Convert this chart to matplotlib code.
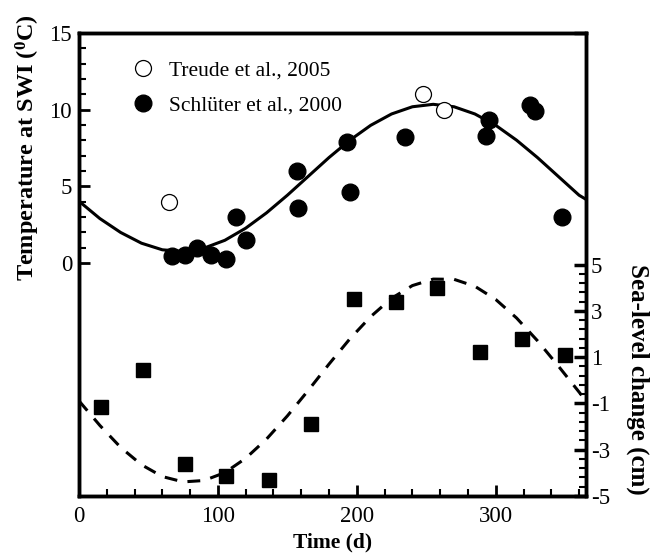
import numpy as np
import matplotlib
matplotlib.use("Agg")
import matplotlib.pyplot as plt
from matplotlib.ticker import MultipleLocator, FixedLocator
from matplotlib.lines import Line2D

plt.rcParams["font.family"] = ["Liberation Serif", "DejaVu Serif"]
plt.rcParams["mathtext.fontset"] = "custom"
plt.rcParams["mathtext.rm"] = "Liberation Serif"
plt.rcParams["mathtext.bf"] = "Liberation Serif:bold"

# Seasonal temperature fit at the sediment-water interface (read every 15 d)
fit_day = [0, 15, 30, 45, 60, 75, 90, 105, 120, 135, 150, 165, 180, 195,
           210, 225, 240, 255, 270, 285, 300, 315, 330, 345, 360, 365]
fit_temp = [4.03, 2.90, 1.99, 1.29, 0.86, 0.75, 0.97, 1.48, 2.27, 3.27,
            4.42, 5.65, 6.88, 8.01, 8.98, 9.72, 10.19, 10.35, 10.19, 9.72,
            8.98, 8.01, 6.88, 5.65, 4.42, 4.15]

# Seasonal sea-level fit
fit_sea = [-0.89, -1.95, -2.90, -3.65, -4.16, -4.39, -4.33, -3.99, -3.37,
           -2.54, -1.54, -0.44, 0.70, 1.79, 2.75, 3.54, 4.09, 4.37, 4.36,
           4.06, 3.49, 2.69, 1.71, 0.62, -0.51, -0.89]

# Observations
treude_day = [65, 248, 263]
treude_temp = [4.0, 11.0, 10.0]

schluter_day = [67, 76, 85, 95, 106, 113, 120, 157, 158, 193, 195, 235,
                293, 295, 325, 328, 348]
schluter_temp = [0.45, 0.55, 1.0, 0.55, 0.25, 3.0, 1.5, 6.0, 3.6, 7.9,
                 4.6, 8.2, 8.3, 9.3, 10.3, 9.9, 3.0]

sea_day = [16, 46, 76, 106, 137, 167, 198, 228, 258, 289, 319, 350]
sea_level = [-1.15, 0.45, -3.6, -4.15, -4.3, -1.9, 3.5, 3.4, 4.0, 1.2,
             1.8, 1.1]

fig = plt.figure(figsize=(6.55, 5.56), dpi=100)
ax = fig.add_axes([0.1206, 0.1079, 0.7741, 0.8327])
ax2 = ax.twinx()

ax.plot(fit_day, fit_temp, color="black", lw=2.2, zorder=2)
ax.plot(treude_day, treude_temp, "o", ms=11.5, mfc="white", mec="black",
        mew=0.9, zorder=3)
ax.plot(schluter_day, schluter_temp, "o", ms=12, color="black", zorder=3)

ax2.plot(fit_day, fit_sea, color="black", lw=2.2, ls=(0, (4.2, 3.4)))
ax2.plot(sea_day, sea_level, "s", ms=10, color="black")

ax.set_xlim(0, 365)
ax.set_ylim(-15.2, 15)
ax2.set_ylim(-5, 15)

for a in (ax, ax2):
    for s in a.spines.values():
        s.set_linewidth(2.5)

ax.xaxis.set_major_locator(MultipleLocator(100))
ax.xaxis.set_minor_locator(MultipleLocator(20))
ax.yaxis.set_major_locator(FixedLocator([0, 5, 10, 15]))
ax.yaxis.set_minor_locator(FixedLocator(np.arange(0, 16, 1)))
ax2.yaxis.set_major_locator(FixedLocator([-5, -3, -1, 1, 3, 5, 15]))
ax2.yaxis.set_minor_locator(FixedLocator(np.arange(-5, 5.01, 0.4)))
ax2.set_yticklabels(["-5", "-3", "-1", "1", "3", "5", ""])

ax.tick_params(axis="both", which="both", direction="in", labelsize=16.5,
               top=False, right=False, width=1.5)
ax.tick_params(which="major", length=8, width=2)
ax.tick_params(which="minor", length=5)
ax2.tick_params(axis="y", which="both", direction="in", labelsize=16.5,
                width=1.5)
ax2.tick_params(which="major", length=9, width=2.5)
ax2.tick_params(which="minor", length=5)
ax.tick_params(axis="x", pad=7)
ax.tick_params(axis="y", pad=5)

ax.set_xlabel("Time (d)", fontsize=15.5, fontweight="bold", labelpad=4)
fig.text(0.043, 0.735, r"Temperature at SWI ($\mathbf{^0}$C)", rotation=90,
         ha="center", va="center", fontsize=17.5, fontweight="bold")
fig.text(0.974, 0.317, "Sea-level change (cm)", rotation=270,
         ha="center", va="center", fontsize=18, fontweight="bold")

handles = [
    Line2D([], [], ls="none", marker="o", ms=11.5, mfc="white", mec="black",
           mew=0.9),
    Line2D([], [], ls="none", marker="o", ms=12, color="black"),
]
ax.legend(handles, ["Treude et al., 2005", "Schlüter et al., 2000"],
          loc="upper left", bbox_to_anchor=(0.062, 0.983), frameon=False,
          fontsize=15.5, handlelength=1.2, handletextpad=0.62,
          labelspacing=0.72)

fig.savefig("out.png", dpi=100)
